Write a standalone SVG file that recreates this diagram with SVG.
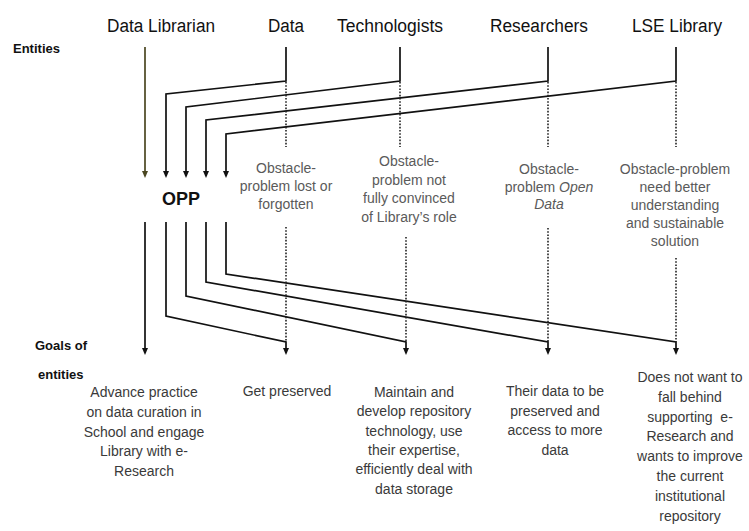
<svg xmlns="http://www.w3.org/2000/svg" width="749" height="531" viewBox="0 0 749 531">
<style>
.hdr{font-family:"Liberation Sans",Arial,sans-serif;font-size:18px;fill:#111;text-anchor:middle}
.lbl{font-family:"Liberation Sans",Arial,sans-serif;font-size:13px;font-weight:bold;fill:#111}
.obs{font-family:"Liberation Sans",Arial,sans-serif;font-size:14px;fill:#5a5a5a;text-anchor:middle}
.goal{font-family:"Liberation Sans",Arial,sans-serif;font-size:14px;fill:#3a3a3a;text-anchor:middle}
.opp{font-family:"Liberation Sans",Arial,sans-serif;font-size:18px;font-weight:bold;fill:#111;text-anchor:middle}
.ln{fill:none;stroke:#111;stroke-width:1.7;marker-end:url(#ah)}
.olive{fill:none;stroke:#4a4620;stroke-width:1.7;marker-end:url(#aho)}
.dot{fill:none;stroke:#222;stroke-width:1.6;stroke-dasharray:1.6 1.6}
.solid{fill:none;stroke:#111;stroke-width:1.7}
</style>
<defs>
<marker id="ah" viewBox="0 0 7 6" refX="1" refY="3" markerWidth="7" markerHeight="6" markerUnits="userSpaceOnUse" orient="auto"><path d="M0,0 L7,3 L0,6 z" fill="#111"/></marker>
<marker id="aho" viewBox="0 0 7 6" refX="1" refY="3" markerWidth="7" markerHeight="6" markerUnits="userSpaceOnUse" orient="auto"><path d="M0,0 L7,3 L0,6 z" fill="#4a4620"/></marker>
</defs>
<rect width="749" height="531" fill="#fff"/>

<text class="lbl" x="13" y="53">Entities</text>
<text class="lbl" x="35" y="350">Goals of</text>
<text class="lbl" x="38" y="379">entities</text>

<g id="data-librarian"><text class="hdr" x="161" y="32" textLength="108" lengthAdjust="spacingAndGlyphs">Data Librarian</text></g>
<g id="data"><text class="hdr" x="286" y="32" textLength="36" lengthAdjust="spacingAndGlyphs">Data</text></g>
<g id="technologists"><text class="hdr" x="390" y="32" textLength="106" lengthAdjust="spacingAndGlyphs">Technologists</text></g>
<g id="researchers"><text class="hdr" x="539" y="32" textLength="98" lengthAdjust="spacingAndGlyphs">Researchers</text></g>
<g id="lse-library"><text class="hdr" x="677" y="32" textLength="90" lengthAdjust="spacingAndGlyphs">LSE Library</text></g>

<g id="opp"><text class="opp" x="181" y="205">OPP</text></g>

<g id="obstacle-data"><text class="obs" x="286" y="173"><tspan x="286">Obstacle-</tspan><tspan x="286" dy="18">problem lost or</tspan><tspan x="286" dy="18">forgotten</tspan></text></g>
<g id="obstacle-technologists"><text class="obs" x="409" y="166"><tspan x="409">Obstacle-</tspan><tspan x="409" dy="18.5">problem not</tspan><tspan x="409" dy="18.5">fully convinced</tspan><tspan x="409" dy="18.5">of Library’s role</tspan></text></g>
<g id="obstacle-researchers"><text class="obs" x="549" y="174"><tspan x="549">Obstacle-</tspan><tspan x="549" dy="17.5">problem <tspan font-style="italic">Open</tspan></tspan><tspan x="549" dy="17.5" font-style="italic">Data</tspan></text></g>
<g id="obstacle-lse"><text class="obs" x="675" y="174"><tspan x="675">Obstacle-problem</tspan><tspan x="675" dy="18">need better</tspan><tspan x="675" dy="18">understanding</tspan><tspan x="675" dy="18">and sustainable</tspan><tspan x="675" dy="18">solution</tspan></text></g>

<g id="goal-data-librarian"><text class="goal" x="144" y="397"><tspan x="144">Advance practice</tspan><tspan x="144" dy="19.8">on data curation in</tspan><tspan x="144" dy="19.8">School and engage</tspan><tspan x="144" dy="19.8">Library with e-</tspan><tspan x="144" dy="19.8">Research</tspan></text></g>
<g id="goal-data"><text class="goal" x="287" y="396">Get preserved</text></g>
<g id="goal-technologists"><text class="goal" x="414" y="397"><tspan x="414">Maintain and</tspan><tspan x="414" dy="19.3">develop repository</tspan><tspan x="414" dy="19.3">technology, use</tspan><tspan x="414" dy="19.3">their expertise,</tspan><tspan x="414" dy="19.3">efficiently deal with</tspan><tspan x="414" dy="19.3">data storage</tspan></text></g>
<g id="goal-researchers"><text class="goal" x="555" y="396"><tspan x="555">Their data to be</tspan><tspan x="555" dy="19.5">preserved and</tspan><tspan x="555" dy="19.5">access to more</tspan><tspan x="555" dy="19.5">data</tspan></text></g>
<g id="goal-lse"><text class="goal" x="690" y="382" xml:space="preserve"><tspan x="690">Does not want to</tspan><tspan x="690" dy="19.8">fall behind</tspan><tspan x="690" dy="19.8">supporting  e-</tspan><tspan x="690" dy="19.8">Research and</tspan><tspan x="690" dy="19.8">wants to improve</tspan><tspan x="690" dy="19.8">the current</tspan><tspan x="690" dy="19.8">institutional</tspan><tspan x="690" dy="19.8">repository</tspan></text></g>

<g id="connectors">
<path class="olive" d="M145,47 V172"/>
<path class="ln" d="M286,47 V81 L166,94 V172"/>
<path class="ln" d="M400,47 V81 L186,107 V172"/>
<path class="ln" d="M548,47 V81 L206,120 V172"/>
<path class="ln" d="M676,47 V81 L226,134 V172"/>
<path class="ln" d="M145,222 V349"/>
<path class="ln" d="M166,222 V316 L286,342 V349"/>
<path class="ln" d="M186,222 V296 L406,342 V349"/>
<path class="ln" d="M206,222 V282 L548,342 V349"/>
<path class="ln" d="M226,222 V274 L676,342 V349"/>
<path class="dot" d="M286,82 V147 M286,227 V342"/>
<path class="dot" d="M400,82 V147 M406,237 V342"/>
<path class="dot" d="M548,82 V147 M548,228 V342"/>
<path class="dot" d="M676,82 V147 M676,258 V342"/>
</g>
</svg>
